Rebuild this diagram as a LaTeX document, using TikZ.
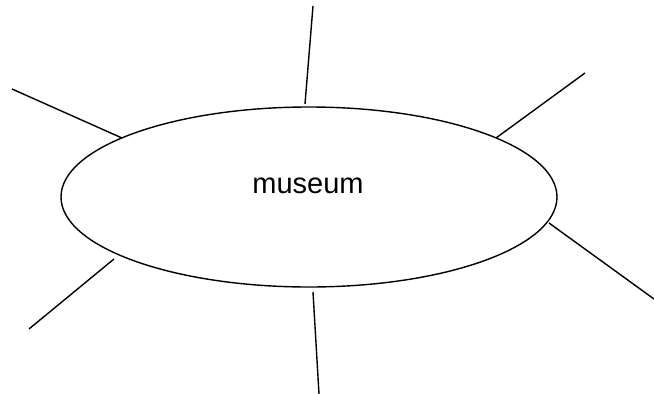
\documentclass[tikz,border=0pt]{standalone}
\usepackage{fontspec}
\setmainfont{Liberation Sans}
\usetikzlibrary{shapes.geometric}
\tikzset{
  spoke/.style={draw=black, line width=1.4pt},
  bubble/.style={ellipse, draw=black, line width=1.4pt, minimum width=496pt, minimum height=180pt, inner sep=0pt},
  word/.style={font=\fontsize{29}{34}\selectfont, inner sep=0pt}
}
\begin{document}
\begin{tikzpicture}[x=1pt,y=-1pt]
\useasboundingbox (0,0) rectangle (654,394);
\node[bubble] (e) at (309,197) {};
\node[word] (t) at (308,186) {museum};
\coordinate (a1) at (313,6);   \coordinate (a2) at (305,104);
\coordinate (b1) at (12,89);   \coordinate (b2) at (122,138);
\coordinate (c1) at (585,73);  \coordinate (c2) at (496,138);
\coordinate (d1) at (549,223); \coordinate (d2) at (654,299);
\coordinate (f1) at (114,259); \coordinate (f2) at (29,329);
\coordinate (g1) at (313,292); \coordinate (g2) at (319,394);
\draw[spoke] (a1) -- (a2);
\draw[spoke] (b1) -- (b2);
\draw[spoke] (c1) -- (c2);
\draw[spoke] (d1) -- (d2);
\draw[spoke] (f1) -- (f2);
\draw[spoke] (g1) -- (g2);
\end{tikzpicture}
\end{document}
